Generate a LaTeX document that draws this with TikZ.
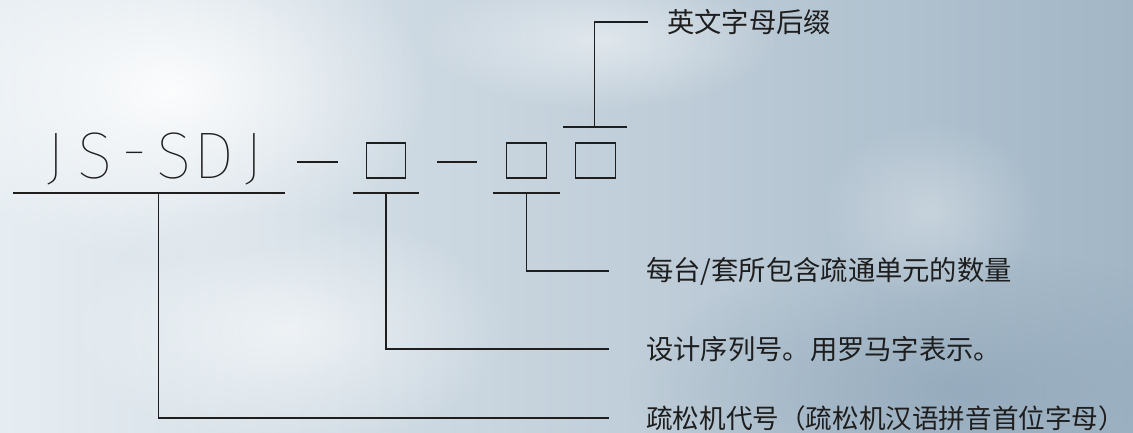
\documentclass[tikz,border=0pt]{standalone}
\usepackage{fontspec}
\usetikzlibrary{fadings}
\newfontfamily\cjk{Noto Sans CJK SC}
\IfFontExistsTF{Fira Sans Thin}{\newfontfamily\cadfont{Fira Sans Thin}}{\newfontfamily\cadfont{Fira Sans Light}}
\newcommand{\cadch}[1]{\makebox[39.6pt]{#1}}
\definecolor{ink}{HTML}{1E1E1E}
\definecolor{bgL}{HTML}{E6EDF2}
\definecolor{bgR}{HTML}{A2B6C6}
\definecolor{bgD}{HTML}{8CA3B6}
\tikzfading[name=softblob, inner color=transparent!0, outer color=transparent!100]

\begin{document}
\begin{tikzpicture}[x=1pt,y=-1pt]
            \tikzset{line/.style={ink, line width=1.2pt},
                     box/.style={draw=ink, line width=1.2pt, minimum width=39.5pt, minimum height=35pt, inner sep=0pt},
                     desc/.style={anchor=west, inner sep=0pt, text=ink, font=\cjk\fontsize{27.3}{30}\selectfont}}
            % background
            \useasboundingbox (0,0) rectangle (1133,432);
            \fill [left color=bgL, right color=bgR] (0,0) rectangle (1133,432);
            \fill [white, opacity=.9, path fading=softblob] (170,90) ellipse (260 and 170);
            \fill [white, opacity=.6, path fading=softblob] (290,330) ellipse (220 and 120);
            \fill [white, opacity=.5, path fading=softblob] (600,40) ellipse (180 and 70);
            \fill [bgD, opacity=.7, path fading=softblob] (960,390) ellipse (330 and 140);
            \fill [white, opacity=.3, path fading=softblob] (930,210) ellipse (110 and 90);
            % model code
            \node [anchor=base, inner sep=0pt, text=ink, font=\cadfont\fontsize{66}{66}\selectfont] (code) at (154.5,178)
                {\cadch{J}\cadch{S}\cadch{\raisebox{5pt}{-}}\cadch{S}\cadch{D}\cadch{J}};
            \draw [line] (297,162) -- (338,162);
            \node [box] (b1) at (386,160.5) {};
            \draw [line] (437,162) -- (477,162);
            \node [box] (b2) at (526.5,160.5) {};
            \node [box] (b3) at (595.5,160.5) {};
            % underlines
            \draw [line] (13,193) -- (285,193);
            \draw [line] (353,193) -- (419,193);
            \draw [line] (493,193) -- (560,193);
            \draw [line] (563,127) -- (627,127);
            \coordinate (t1) at (158.5,193);
            \coordinate (t2) at (386,193);
            \coordinate (t3) at (526.5,193);
            \coordinate (t4) at (594.5,127);
            % descriptions
            \node [desc] (d4) at (667,22) {英文字母后缀};
            \node [desc] (d3) at (646,271) {每台/套所包含疏通单元的数量};
            \node [desc] (d2) at (646,349) {设计序列号。用罗马字表示。};
            \node [desc, font=\cjk\fontsize{26.6}{30}\selectfont] (d1) at (646,418) {疏松机代号（疏松机汉语拼音首位字母）};
            \draw [line] (t4) |- ([xshift=-19pt]d4.west);
            \draw [line] (t3) |- ([xshift=-37pt]d3.west);
            \draw [line] (t2) |- ([xshift=-37pt]d2.west);
            \draw [line] (t1) |- ([xshift=-37pt]d1.west);
\end{tikzpicture}
\end{document}
